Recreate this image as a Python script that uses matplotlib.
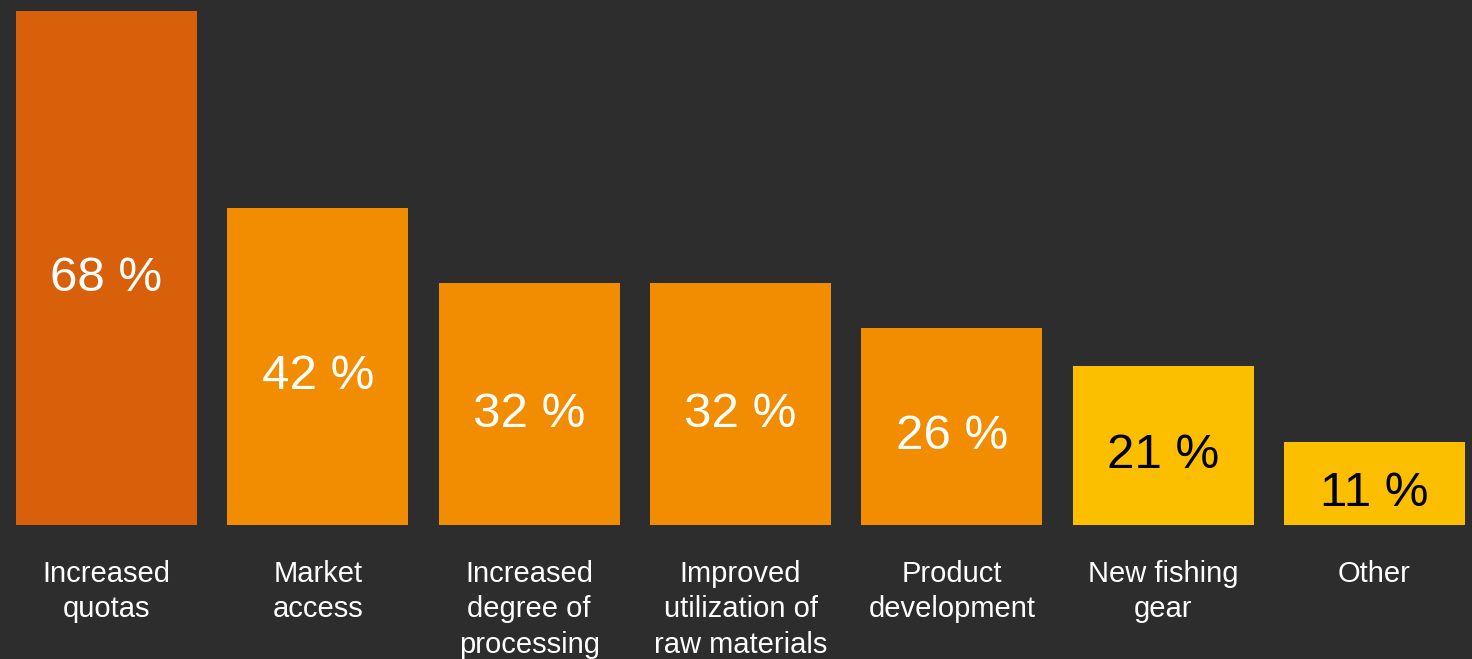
import matplotlib
matplotlib.use("Agg")
import matplotlib.pyplot as plt
import matplotlib.transforms as mtransforms

categories = ["Increased\nquotas", "Market\naccess", "Increased\ndegree of\nprocessing",
              "Improved\nutilization of\nraw materials", "Product\ndevelopment",
              "New fishing\ngear", "Other"]
values = [68, 42, 32, 32, 26, 21, 11]
bar_colors = ["#D9600A", "#F28C00", "#F28C00", "#F28C00", "#F28C00", "#FBBF00", "#FBBF00"]
value_text_colors = ["white", "white", "white", "white", "white", "black", "black"]

BG = "#2D2D2D"
W, H = 1472, 659
fig = plt.figure(figsize=(W / 100, H / 100), dpi=100)
fig.patch.set_facecolor(BG)
ax = fig.add_axes([0, 134 / H, 1, (525 - 11) / H])
ax.set_facecolor(BG)

x = list(range(len(values)))
ax.bar(x, values, width=0.856, color=bar_colors, linewidth=0)
scale = (1374.5 - 106.5) / 6
xmin = -106.5 / scale
ax.set_xlim(xmin, xmin + W / scale)
ax.set_ylim(0, max(values))
ax.axis("off")

font = ["Liberation Sans", "DejaVu Sans"]
for xi, v, tc in zip(x, values, value_text_colors):
    ax.text(xi, v / 2 - 1.35, f"{v} %", ha="center", va="center", color=tc,
            fontsize=35.5, family=font)

trans = mtransforms.blended_transform_factory(ax.transData, fig.transFigure)
for xi, c in zip(x, categories):
    ax.text(xi, 1 - 560 / H, c, ha="center", va="top", color="white",
            fontsize=21, family=font, linespacing=1.33, transform=trans)

fig.savefig("out.png", dpi=100, facecolor=BG)
